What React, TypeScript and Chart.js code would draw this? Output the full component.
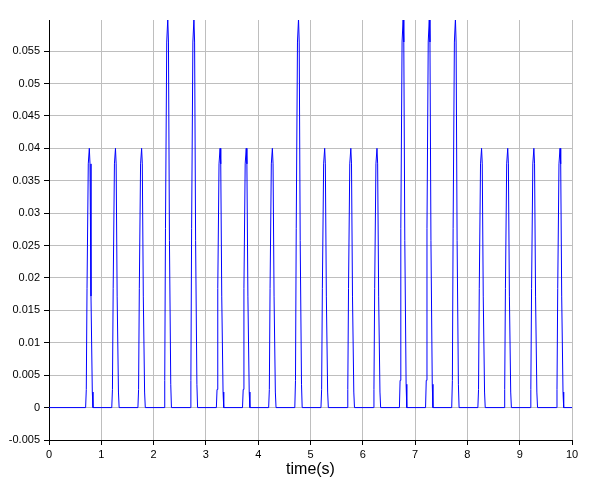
import React, { useEffect, useRef } from "react";
import { Chart, registerables } from "chart.js";

Chart.register(...registerables);

// Start time of each pulse (s)
const pulseStarts = [0.70, 1.20, 1.70, 2.20, 2.70, 3.20, 3.70, 4.20, 4.70, 5.20, 5.70, 6.20, 6.70, 7.20, 7.70, 8.20, 8.70, 9.20, 9.70];
// Peak value of each pulse
const pulseHeights = [0.04, 0.04, 0.04, 0.06, 0.06, 0.04, 0.04, 0.04, 0.06, 0.04, 0.04, 0.04, 0.06, 0.06, 0.06, 0.04, 0.04, 0.04, 0.04];
// Pulse profile: time offset from start, fraction of peak
const shapeOffsets = [0, 0.013, 0.027, 0.051, 0.071, 0.084, 0.103, 0.128, 0.141];
const shapeFractions = [0, 0.07, 0.46, 0.94, 1.0, 0.94, 0.43, 0.06, 0];

const xTicks = [0, 1, 2, 3, 4, 5, 6, 7, 8, 9, 10];
const tStart = 0;
const tEnd = 10;

function buildPoints() {
  const pts: { x: number; y: number }[] = [{ x: tStart, y: 0 }];
  pulseStarts.forEach((s, i) => {
    shapeOffsets.forEach((o, j) => {
      pts.push({ x: s + o, y: pulseHeights[i] * shapeFractions[j] });
    });
  });
  pts.push({ x: tEnd, y: 0 });
  return pts;
}

export default function App() {
  const ref = useRef<HTMLCanvasElement>(null);
  useEffect(() => {
    if (!ref.current) return;
    const tickFont = { family: "Liberation Sans", size: 11 };
    const chart = new Chart(ref.current, {
      type: "line",
      data: {
        datasets: [
          {
            data: buildPoints(),
            borderColor: "#0000ff",
            borderWidth: 1,
            pointRadius: 0,
            tension: 0,
            fill: false,
          },
        ],
      },
      options: {
        animation: false,
        responsive: false,
        parsing: false as any,
        layout: { padding: { top: 20, right: 22, left: 0, bottom: 0 } },
        plugins: { legend: { display: false }, tooltip: { enabled: false } },
        scales: {
          x: {
            type: "linear",
            min: 0,
            max: 10,
            afterBuildTicks: (scale: any) => {
              scale.ticks = xTicks.map((v) => ({ value: v }));
            },
            afterFit: (scale: any) => {
              scale.height = 43;
            },
            ticks: {
              font: tickFont,
              color: "#000",
              padding: 3,
              maxRotation: 0,
              autoSkip: false,
              callback: (v: any) => String(v),
            },
            grid: { color: "#bebebe", tickColor: "#000", tickLength: 5 },
            border: { color: "#000", width: 1 },
            title: {
              display: true,
              text: "time(s)",
              color: "#000",
              font: { family: "Liberation Sans", size: 16 },
              padding: { top: 0, bottom: 4 },
            },
          },
          y: {
            type: "linear",
            min: -0.005,
            max: 0.0598,
            afterBuildTicks: (scale: any) => {
              const t: { value: number }[] = [];
              for (let k = -1; k <= 11; k++) t.push({ value: k * 0.005 });
              scale.ticks = t;
            },
            afterFit: (scale: any) => {
              scale.width = 49;
            },
            ticks: {
              font: tickFont,
              color: "#000",
              padding: 4,
              autoSkip: false,
              callback: (v: any) => String(parseFloat(Number(v).toFixed(3))),
            },
            grid: { color: "#bebebe", tickColor: "#000", tickLength: 5 },
            border: { color: "#000", width: 1 },
          },
        },
      },
    });
    return () => chart.destroy();
  }, []);
  return (
    <div style={{ position: "fixed", left: 0, top: 0, width: 594, height: 483, background: "#fff" }}>
      <canvas ref={ref} width={594} height={483} style={{ width: 594, height: 483, display: "block" }} />
    </div>
  );
}
